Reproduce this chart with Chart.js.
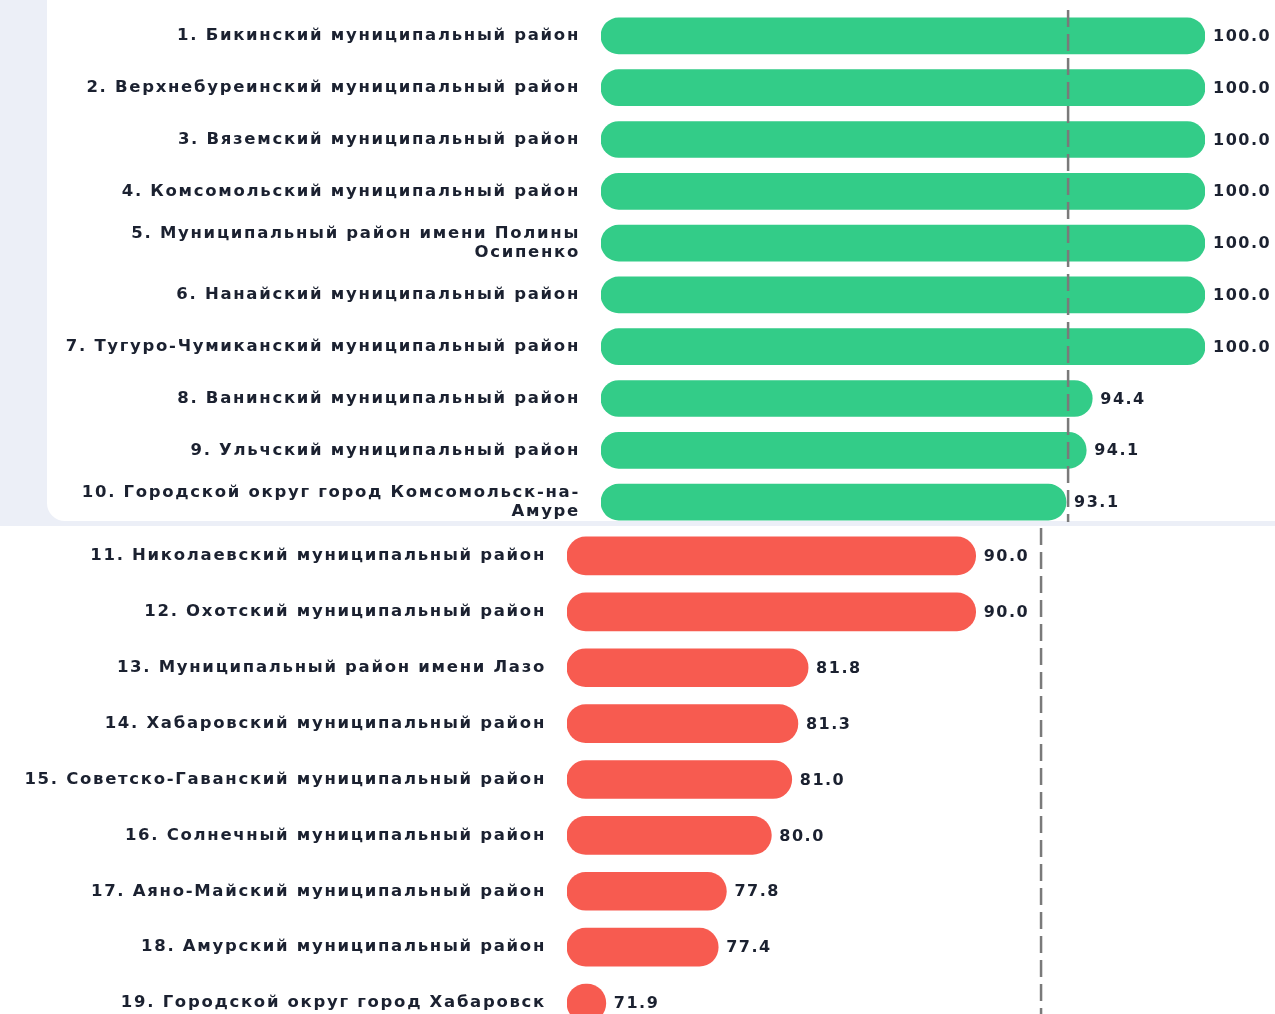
<!DOCTYPE html>
<html><head><meta charset="utf-8">
<script src="https://cdn.jsdelivr.net/npm/chart.js@4.4.1/dist/chart.umd.min.js"></script>
<style>
html,body{margin:0;padding:0;width:1275px;height:1014px;overflow:hidden;background:#ffffff;}
#bgTop{position:absolute;left:0;top:0;width:1275px;height:526px;background:#eceff7;}
#card{position:absolute;left:47px;top:-30px;width:1228px;height:551px;background:#ffffff;border-radius:0 0 0 18px;}
#wrapTop{position:absolute;left:0;top:0;width:1275px;height:522px;overflow:hidden;}
#wrapBot{position:absolute;left:0;top:526px;width:1275px;height:488px;overflow:hidden;}
canvas{display:block;}
</style>
</head><body>
<div id="bgTop"></div><div id="card"></div>
<div id="wrapTop"><canvas id="cTop" width="1275" height="530"></canvas></div>
<div id="wrapBot"><canvas id="cBot" width="1275" height="507"></canvas></div>
<script>
const topLabels = [
  "1. Бикинский муниципальный район",
  "2. Верхнебуреинский муниципальный район",
  "3. Вяземский муниципальный район",
  "4. Комсомольский муниципальный район",
  ["5. Муниципальный район имени Полины", "Осипенко"],
  "6. Нанайский муниципальный район",
  "7. Тугуро-Чумиканский муниципальный район",
  "8. Ванинский муниципальный район",
  "9. Ульчский муниципальный район",
  ["10. Городской округ город Комсомольск-на-", "Амуре"]
];
const topValues = [100.0, 100.0, 100.0, 100.0, 100.0, 100.0, 100.0, 94.4, 94.1, 93.1];

const bottomLabels = [
  "11. Николаевский муниципальный район",
  "12. Охотский муниципальный район",
  "13. Муниципальный район имени Лазо",
  "14. Хабаровский муниципальный район",
  "15. Советско-Гаванский муниципальный район",
  "16. Солнечный муниципальный район",
  "17. Аяно-Майский муниципальный район",
  "18. Амурский муниципальный район",
  "19. Городской округ город Хабаровск"
];
const bottomValues = [90.0, 90.0, 81.8, 81.3, 81.0, 80.0, 77.8, 77.4, 71.9];

const referenceValue = 93.2;
const axisMin = 70;
const axisMax = 100;

const GREEN = '#33cc88';
const RED = '#f75b50';
const TEXT = '#1b2130';
const FAMILY = '"DejaVu Sans", sans-serif';
const LS = '1.7px';

const spacingPlugin = {
  id: 'spacing',
  beforeDraw(chart) { chart.ctx.letterSpacing = LS; }
};
const refLine = {
  id: 'refLine',
  afterDatasetsDraw(chart) {
    const ctx = chart.ctx, a = chart.chartArea;
    const x = chart.scales.x.getPixelForValue(referenceValue);
    ctx.save();
    ctx.strokeStyle = '#7a7a7a';
    ctx.lineWidth = 2.5;
    ctx.setLineDash([17, 7]);
    ctx.beginPath();
    ctx.moveTo(x, a.top);
    ctx.lineTo(x, a.bottom);
    ctx.stroke();
    ctx.restore();
  }
};
const valueLabels = {
  id: 'valueLabels',
  afterDraw(chart) {
    const ctx = chart.ctx;
    const meta = chart.getDatasetMeta(0);
    const data = chart.data.datasets[0].data;
    ctx.save();
    ctx.letterSpacing = '1.5px';
    ctx.font = 'bold 16px ' + FAMILY;
    ctx.fillStyle = TEXT;
    ctx.textAlign = 'left';
    ctx.textBaseline = 'middle';
    meta.data.forEach((bar, i) => {
      ctx.fillText(data[i].toFixed(1), bar.x + 8, bar.y + 1);
    });
    ctx.restore();
  }
};

function makeChart(id, labels, values, color, thickness, labelWidth, padding) {
  return new Chart(document.getElementById(id), {
    type: 'bar',
    data: {
      labels: labels,
      datasets: [{
        data: values,
        base: axisMin,
        backgroundColor: color,
        borderRadius: 20,
        borderSkipped: false,
        barThickness: thickness
      }]
    },
    options: {
      indexAxis: 'y',
      responsive: false,
      animation: false,
      devicePixelRatio: 1,
      layout: { padding: padding },
      plugins: { legend: { display: false }, tooltip: { enabled: false } },
      scales: {
        x: { display: false, min: axisMin, max: axisMax },
        y: {
          grid: { display: false, drawTicks: false },
          border: { display: false },
          ticks: {
            color: TEXT,
            padding: 21,
            font: { family: FAMILY, size: 16.5, weight: 'bold', lineHeight: 1.15 }
          },
          afterFit(scale) {
            scale.width = labelWidth;
            scale.paddingTop = 0;
            scale.paddingBottom = 0;
          }
        }
      }
    },
    plugins: [spacingPlugin, refLine, valueLabels]
  });
}

makeChart('cTop', topLabels, topValues, GREEN, 36, 601, { top: 10, right: 70, bottom: 2, left: 0 });
makeChart('cBot', bottomLabels, bottomValues, RED, 38, 567, { top: 2, right: 95, bottom: 2, left: 0 });
</script>
</body></html>
